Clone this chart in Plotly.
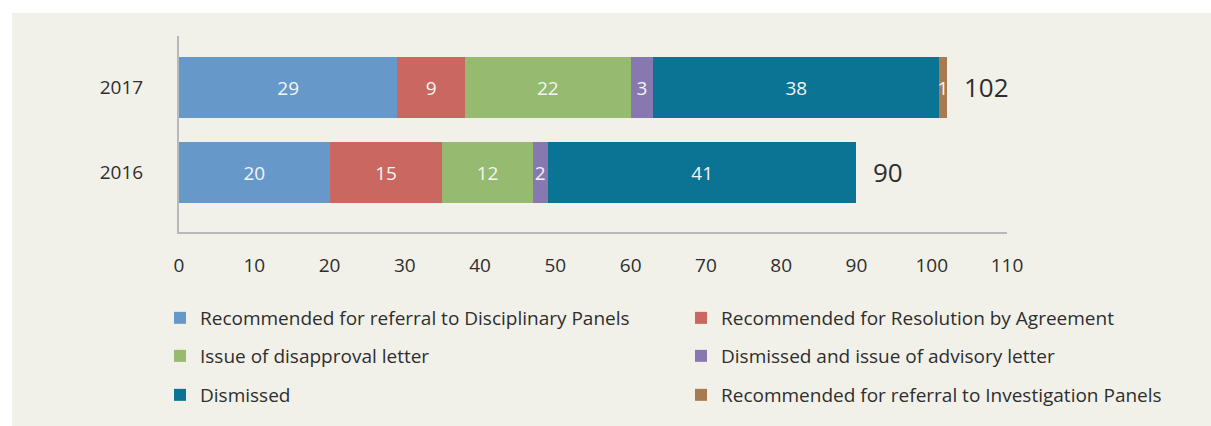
import plotly.graph_objects as go

# ---- data ----
years = ["2016", "2017"]
series_names = [
    "Recommended for referral to Disciplinary Panels",
    "Recommended for Resolution by Agreement",
    "Issue of disapproval letter",
    "Dismissed and issue of advisory letter",
    "Dismissed",
    "Recommended for referral to Investigation Panels",
]
referral_disciplinary = [20, 29]
resolution_agreement = [15, 9]
disapproval_letter = [12, 22]
advisory_letter = [2, 3]
dismissed = [41, 38]
referral_investigation = [0, 1]
totals = [90, 102]
x_ticks = [0, 10, 20, 30, 40, 50, 60, 70, 80, 90, 100, 110]

series_values = [referral_disciplinary, resolution_agreement, disapproval_letter,
                 advisory_letter, dismissed, referral_investigation]
colors = ["#6699c9", "#c96760", "#95ba70", "#8878b0", "#0b7393", "#a97a4f"]

BG = "#f2f1e9"
FONT = "Open Sans, Noto Sans, sans-serif"
TXT = "#2e2e2e"

W, H = 1211, 426
L, R, T, B = 179, 1007, 36, 232
pw, ph = R - L, B - T

# legend slot for each series: (legend id, left x px, row centre y px)
legend_ids = ["legend", "legend2", "legend3", "legend4", "legend5", "legend6"]
legend_pos = [(160, 318), (681, 318), (160, 356), (681, 356), (160, 395), (681, 395)]

fig = go.Figure()
for name, vals, col, lg in zip(series_names, series_values, colors, legend_ids):
    fig.add_trace(go.Bar(
        name=name, y=years, x=vals, orientation="h",
        marker=dict(color=col, line=dict(width=0)),
        text=[str(v) if v else "" for v in vals],
        textposition="inside", insidetextanchor="middle", textangle=0,
        constraintext="none",
        textfont=dict(color="#f4f4f4", size=19, family=FONT),
        legend=lg, hoverinfo="skip",
    ))

for i, tot in enumerate(totals):
    fig.add_annotation(x=tot, y=i, xref="x", yref="y", text=str(tot),
                       showarrow=False, xanchor="left", xshift=15, yshift=1,
                       font=dict(size=26, color=TXT, family=FONT))

fig.add_shape(type="rect", xref="paper", yref="paper", layer="below",
              x0=(12 - L) / pw, x1=(W - L) / pw,
              y0=(B - H) / ph, y1=(B - 13) / ph,
              fillcolor=BG, line=dict(width=0))

legends = {}
for lg, (lx, ly) in zip(legend_ids, legend_pos):
    legends[lg] = dict(orientation="h", xref="container", yref="container",
                       x=lx / W, y=1 - ly / H, xanchor="left", yanchor="middle",
                       bgcolor="rgba(0,0,0,0)", traceorder="normal",
                       font=dict(size=19, color=TXT, family=FONT),
                       itemclick=False, itemdoubleclick=False)

fig.update_layout(
    width=W, height=H,
    margin=dict(l=L, r=W - R, t=T, b=H - B, pad=0),
    paper_bgcolor="white", plot_bgcolor=BG,
    barmode="stack", bargap=0.28,
    font=dict(family=FONT, color=TXT, size=19),
    xaxis=dict(range=[0, 110], tickvals=x_ticks, showgrid=False, zeroline=False,
               showline=True, linecolor="#b9b9bb", linewidth=2,
               ticks="", ticklabelstandoff=15,
               tickfont=dict(size=19, color=TXT, family=FONT), fixedrange=True),
    yaxis=dict(type="category", categoryorder="array", categoryarray=years,
               range=[-0.7, 1.606], showgrid=False, zeroline=False,
               showline=True, linecolor="#b9b9bb", linewidth=2,
               ticks="", ticklabelstandoff=30,
               tickfont=dict(size=19, color=TXT, family=FONT), fixedrange=True),
    showlegend=True,
    **legends,
)

fig.write_html("out.html", config={"displayModeBar": False},
               post_script="document.body.style.margin='0px';")
